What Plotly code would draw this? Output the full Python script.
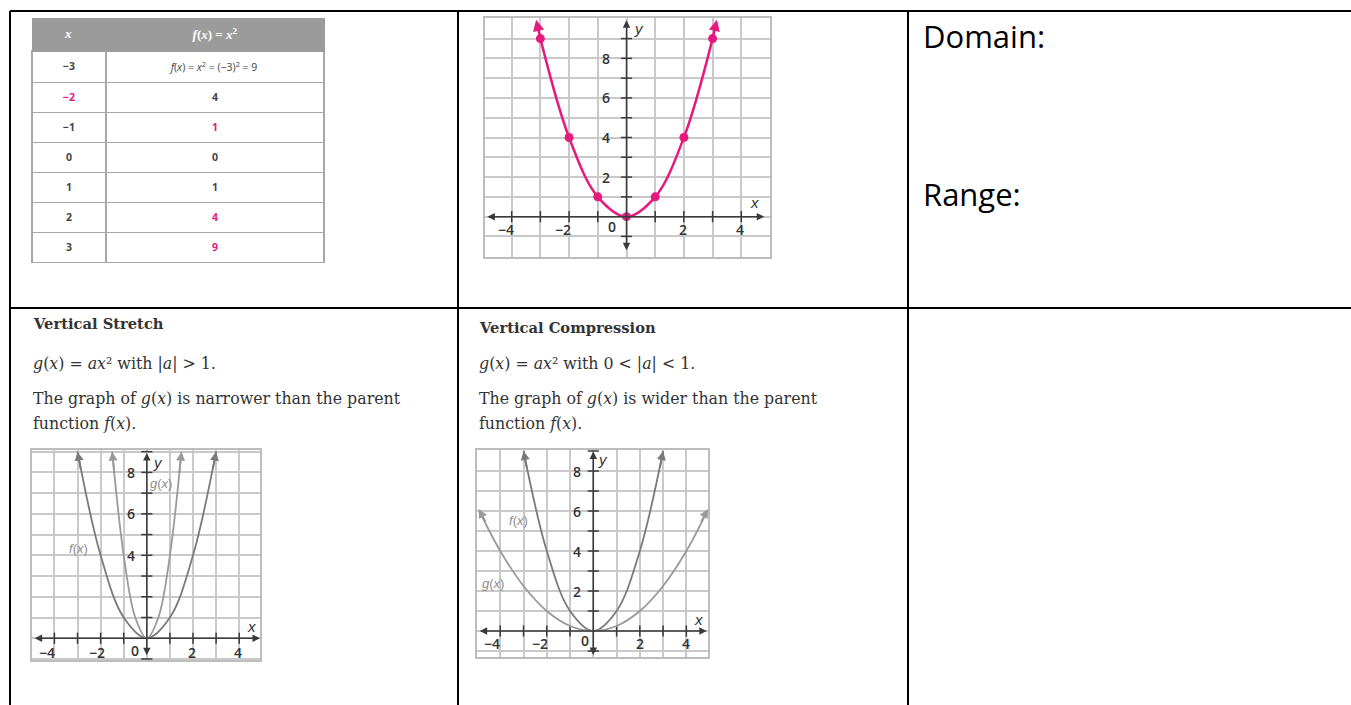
import plotly.graph_objects as go

W, H = 1351, 705

# ---------------- data ----------------
table_x = ["−3", "−2", "−1", "0", "1", "2", "3"]
table_fx = ["<i>f</i>(<i>x</i>) = <i>x</i><sup>2</sup> = (−3)<sup>2</sup> = 9",
            "4", "1", "0", "1", "4", "9"]
x_pink = [False, True, False, False, False, False, False]
fx_pink = [False, False, True, False, False, True, True]

parent_x = [-3, -2, -1, 0, 1, 2, 3]
parent_y = [9, 4, 1, 0, 1, 4, 9]

stretch_x = [-1.5, -1, -0.5, 0, 0.5, 1, 1.5]
stretch_y = [9, 4, 1, 0, 1, 4, 9]

comp_x = [-4.9, -4, -3, -2, -1, 0, 1, 2, 3, 4, 4.9]
comp_y = [6.0, 4, 2.25, 1, 0.25, 0, 0.25, 1, 2.25, 4, 6.0]

x_ticks = [-4, -3, -2, -1, 1, 2, 3, 4]
y_ticks = [-1, 1, 2, 3, 4, 5, 6, 7, 8, 9]

PINK = "#e6197f"
CURVE = "#7a7a7a"
AXIS = "#3a3a3a"
GRID = "#c9c9c9"
TXT = "#333333"
SERIF = "DejaVu Serif"

def pxx(p):
    return p / W

def pxy(p):
    return 1 - p / H

fig = go.Figure()

# ---------------- table ----------------
dark = "#444444"
fig.add_trace(go.Table(
    domain=dict(x=[pxx(32), pxx(324)], y=[pxy(280), pxy(18)]),
    columnwidth=[74, 218],
    header=dict(values=["<b><i>x</i></b>", "<b><i>f</i>(<i>x</i>) = <i>x</i><sup>2</sup></b>"],
                fill_color="#9b9b9b", line=dict(color="#9b9b9b", width=1),
                font=dict(color="white", size=13, family="Liberation Serif"),
                align="center", height=33),
    cells=dict(values=[["<b>" + v + "</b>" for v in table_x],
                       [v if i == 0 else "<b>" + v + "</b>" for i, v in enumerate(table_fx)]],
               fill_color="white", line=dict(color="#a8a8a8", width=1.5),
               font=dict(color=[[PINK if p else dark for p in x_pink],
                                [PINK if p else dark for p in fx_pink]],
                         size=10.5, family=["Open Sans", "Open Sans"]),
               align="center", height=30),
))

# ---------------- graphs ----------------
graphs = [
    dict(ax="", px=(485, 770), py=(18, 257), xr=[-4.93, 5.0], yr=[-2.04, 10.04]),
    dict(ax="2", px=(32, 260), py=(450, 660), xr=[-4.97, 4.9], yr=[-1.05, 9.08]),
    dict(ax="3", px=(477, 708), py=(450, 657), xr=[-5.0, 4.93], yr=[-1.3, 9.05]),
]

for g in graphs:
    common = dict(showgrid=True, gridcolor=GRID, gridwidth=1.5, dtick=1, tick0=0,
                  showticklabels=False, zeroline=False, showline=True, mirror=True,
                  linecolor="#bdbdbd", linewidth=2, fixedrange=True, ticks="")
    fig.layout["xaxis" + g["ax"]] = dict(domain=[pxx(g["px"][0]), pxx(g["px"][1])],
                                          range=g["xr"], anchor="y" + g["ax"], **common)
    fig.layout["yaxis" + g["ax"]] = dict(domain=[pxy(g["py"][1]), pxy(g["py"][0])],
                                          range=g["yr"], anchor="x" + g["ax"], **common)
    xa, ya = "x" + g["ax"], "y" + g["ax"]
    fig.add_trace(go.Scatter(x=x_ticks, y=[0] * len(x_ticks), mode="markers", xaxis=xa, yaxis=ya,
                             marker=dict(symbol="line-ns", size=8, line=dict(color=AXIS, width=1.5)),
                             hoverinfo="skip", showlegend=False))
    fig.add_trace(go.Scatter(x=[0] * len(y_ticks), y=y_ticks, mode="markers", xaxis=xa, yaxis=ya,
                             marker=dict(symbol="line-ew", size=8, line=dict(color=AXIS, width=1.5)),
                             hoverinfo="skip", showlegend=False))

# curves
fig.add_trace(go.Scatter(x=parent_x, y=parent_y, mode="lines+markers", xaxis="x", yaxis="y",
                         line=dict(color=PINK, width=2.5, shape="spline"),
                         marker=dict(color=PINK, size=9), showlegend=False))
fig.add_trace(go.Scatter(x=parent_x, y=parent_y, mode="lines", xaxis="x2", yaxis="y2",
                         line=dict(color=CURVE, width=1.8, shape="spline"), showlegend=False))
fig.add_trace(go.Scatter(x=stretch_x, y=stretch_y, mode="lines", xaxis="x2", yaxis="y2",
                         line=dict(color="#9a9a9a", width=1.8, shape="spline"), showlegend=False))
fig.add_trace(go.Scatter(x=parent_x, y=parent_y, mode="lines", xaxis="x3", yaxis="y3",
                         line=dict(color=CURVE, width=1.8, shape="spline"), showlegend=False))
fig.add_trace(go.Scatter(x=comp_x, y=comp_y, mode="lines", xaxis="x3", yaxis="y3",
                         line=dict(color="#9a9a9a", width=1.8, shape="spline"), showlegend=False))

ann = []

def arrow(ax, x, y, tx, ty, color, width=1.5, both=False, size=1.0):
    ann.append(dict(x=x, y=y, ax=tx, ay=ty, xref="x" + ax, yref="y" + ax,
                    axref="x" + ax, ayref="y" + ax, text="", showarrow=True,
                    arrowhead=2, arrowsize=size, arrowwidth=width, arrowcolor=color,
                    arrowside="end+start" if both else "end"))

def label(ax, x, y, text, size=13, color=TXT, family="Open Sans", weight=600, xanchor="center"):
    ann.append(dict(x=x, y=y, xref="x" + ax, yref="y" + ax, text=text, showarrow=False,
                    xanchor=xanchor, yanchor="middle",
                    font=dict(size=size, color=color, family=family, weight=weight)))

# axes with arrowheads
arrow("", 4.8, 0, -4.9, 0, AXIS, both=True)
arrow("", 0, 9.93, 0, -1.77, AXIS, both=True)
arrow("2", 4.9, 0, -4.92, 0, AXIS, both=True)
arrow("2", 0, 8.93, 0, -0.89, AXIS, both=True)
arrow("3", 4.88, 0, -4.95, 0, AXIS, both=True)
arrow("3", 0, 8.97, 0, -1.28, AXIS, both=True)

# curve end arrows
arrow("", -3.15, 9.95, -3.0, 9.0, PINK, width=2.5, size=0.9)
arrow("", 3.15, 9.95, 3.0, 9.0, PINK, width=2.5, size=0.9)
arrow("2", -3.0, 9.0, -2.85, 8.1, CURVE, width=1.8)
arrow("2", 3.0, 9.0, 2.85, 8.1, CURVE, width=1.8)
arrow("2", -1.5, 9.0, -1.4, 7.9, "#9a9a9a", width=1.8)
arrow("2", 1.5, 9.0, 1.4, 7.9, "#9a9a9a", width=1.8)
arrow("3", -3.0, 9.0, -2.85, 8.1, CURVE, width=1.8)
arrow("3", 3.0, 9.0, 2.85, 8.1, CURVE, width=1.8)
arrow("3", -4.93, 6.1, -4.6, 5.4, "#9a9a9a", width=1.8)
arrow("3", 4.93, 6.1, 4.6, 5.4, "#9a9a9a", width=1.8)

# tick labels - top graph
for v, xx in [("−4", -4.2), ("−2", -2.2), ("2", 1.96), ("4", 3.96)]:
    label("", xx, -0.67, v, size=14)
label("", -0.52, -0.5, "0", size=14)
for v in [2, 4, 6, 8]:
    label("", -0.7, v, str(v), size=14)
label("", 4.47, 0.7, "<i>x</i>", family="Liberation Sans", weight=400, size=15)
label("", 0.45, 9.5, "<i>y</i>", family="Liberation Sans", weight=400, size=15)

# tick labels - stretch graph
for v, xx in [("−4", -4.3), ("−2", -2.16), ("2", 1.95), ("4", 3.95)]:
    label("2", xx, -0.7, v, size=14)
label("2", -0.5, -0.6, "0", size=14)
for v in [4, 6, 8]:
    label("2", -0.68, v, str(v), size=14)
label("2", 4.55, 0.56, "<i>x</i>", family="Liberation Sans", weight=400, size=15)
label("2", 0.5, 8.5, "<i>y</i>", family="Liberation Sans", weight=400, size=15)
label("2", 0.6, 7.47, "<i>g</i>(<i>x</i>)", color="#8c8c8c", family="Liberation Sans", weight=400, size=13)
label("2", -2.96, 4.34, "<i>f</i>(<i>x</i>)", color="#8c8c8c", family="Liberation Sans", weight=400, size=13)

# tick labels - compression graph
for v, xx in [("−4", -4.36), ("−2", -2.29), ("2", 2.0), ("4", 4.0)]:
    label("3", xx, -0.62, v, size=14)
label("3", -0.36, -0.45, "0", size=14)
for v in [2, 4, 6, 8]:
    label("3", -0.71, v, str(v), size=14)
label("3", 4.5, 0.58, "<i>x</i>", family="Liberation Sans", weight=400, size=15)
label("3", 0.43, 8.6, "<i>y</i>", family="Liberation Sans", weight=400, size=15)
label("3", -3.2, 5.55, "<i>f</i>(<i>x</i>)", color="#8c8c8c", family="Liberation Sans", weight=400, size=13)
label("3", -4.3, 2.38, "<i>g</i>(<i>x</i>)", color="#8c8c8c", family="Liberation Sans", weight=400, size=13)

# ---------------- worksheet text ----------------
def ptext(x, y, text, size=15.8, family=SERIF, color=TXT):
    ann.append(dict(x=pxx(x), y=pxy(y), xref="paper", yref="paper", text=text, showarrow=False,
                    xanchor="left", yanchor="middle", font=dict(size=size, family=family, color=color)))

ptext(31, 323, "<b>Vertical Stretch</b>", size=14.7)
ptext(31, 363, "<i>g</i>(<i>x</i>) = <i>ax</i>² with |<i>a</i>| > 1.")
ptext(31, 398, "The graph of <i>g</i>(<i>x</i>) is narrower than the parent")
ptext(31, 423, "function <i>f</i>(<i>x</i>).")
ptext(477, 327, "<b>Vertical Compression</b>", size=14.7)
ptext(477, 363, "<i>g</i>(<i>x</i>) = <i>ax</i>² with 0 < |<i>a</i>| < 1.")
ptext(477, 398, "The graph of <i>g</i>(<i>x</i>) is wider than the parent")
ptext(477, 423, "function <i>f</i>(<i>x</i>).")
ptext(921, 36, "Domain:", size=31, family="Open Sans", color="#000000")
ptext(921, 194, "Range:", size=31, family="Open Sans", color="#000000")

# ---------------- worksheet frame ----------------
shapes = []
def pline(x0, y0, x1, y1):
    shapes.append(dict(type="line", xref="paper", yref="paper", x0=pxx(x0), y0=pxy(y0),
                       x1=pxx(x1), y1=pxy(y1), line=dict(color="black", width=2)))

pline(10, 11, 1351, 11)
pline(10, 308, 1351, 308)
pline(10, 11, 10, 705)
pline(458, 11, 458, 705)
pline(908, 11, 908, 705)

fig.update_layout(width=W, height=H, margin=dict(l=0, r=0, t=0, b=0),
                  paper_bgcolor="white", plot_bgcolor="white", showlegend=False,
                  annotations=ann, shapes=shapes)

fig.write_html("out.html", config={"displayModeBar": False},
               post_script="document.body.style.margin='0';")
